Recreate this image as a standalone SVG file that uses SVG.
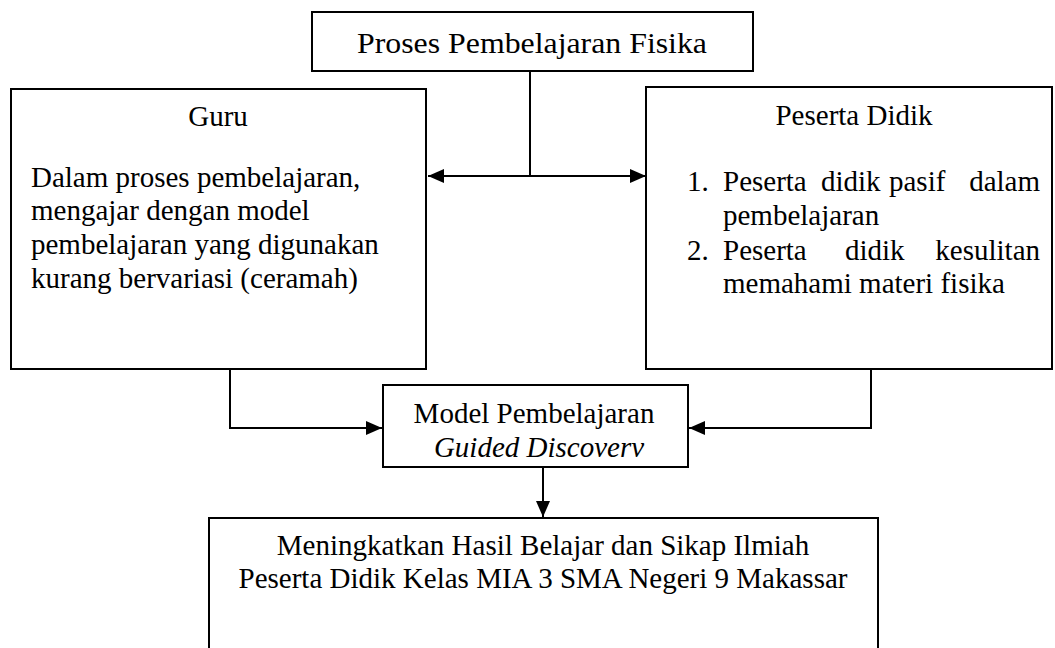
<svg xmlns="http://www.w3.org/2000/svg" width="1055" height="648" viewBox="0 0 1055 648">
<style>
.box{fill:#fff;stroke:#000;stroke-width:2}
.t{font-family:"Liberation Serif","Times New Roman",serif;font-size:29px;fill:#000}
.c{text-anchor:middle}
.e{text-anchor:end}
.i{font-style:italic}
.ln{fill:none;stroke:#000;stroke-width:2}
</style>
<defs>
<marker id="ah" markerUnits="userSpaceOnUse" markerWidth="16" markerHeight="14" refX="16" refY="7" orient="auto-start-reverse">
<path d="M0,0 L16,7 L0,14 z" fill="#000"/>
</marker>
</defs>
<rect width="1055" height="648" fill="#fff"/>
<g id="connectors">
<line class="ln" x1="530" y1="71" x2="530" y2="176"/>
<line class="ln" x1="428" y1="176" x2="646" y2="176" marker-start="url(#ah)" marker-end="url(#ah)"/>
<polyline class="ln" points="230,369 230,428 382,428" marker-end="url(#ah)"/>
<polyline class="ln" points="871,369 871,428 689,428" marker-end="url(#ah)"/>
<line class="ln" x1="543" y1="467" x2="543" y2="517" marker-end="url(#ah)"/>
</g>
<g id="proses">
<rect class="box" x="312" y="12" width="441" height="59"/>
<text class="t c" x="532" y="53" font-size="31.5" textLength="350" lengthAdjust="spacingAndGlyphs">Proses Pembelajaran Fisika</text>
</g>
<g id="guru">
<rect class="box" x="11" y="89" width="415" height="280"/>
<text class="t c" x="218" y="126">Guru</text>
<text class="t" x="31" y="187">Dalam proses pembelajaran,</text>
<text class="t" x="31" y="220">mengajar dengan model</text>
<text class="t" x="31" y="254">pembelajaran yang digunakan</text>
<text class="t" x="31" y="288">kurang bervariasi (ceramah)</text>
</g>
<g id="peserta">
<rect class="box" x="646" y="87" width="406" height="282"/>
<text class="t c" x="854" y="125">Peserta Didik</text>
<text class="t" x="687" y="191">1.</text>
<text class="t" x="723" y="191">Peserta</text>
<text class="t" x="821" y="191">didik</text>
<text class="t" x="889" y="191">pasif</text>
<text class="t e" x="1040" y="191">dalam</text>
<text class="t" x="723" y="225">pembelajaran</text>
<text class="t" x="687" y="260">2.</text>
<text class="t" x="723" y="260">Peserta</text>
<text class="t" x="845" y="260">didik</text>
<text class="t e" x="1040" y="260">kesulitan</text>
<text class="t" x="723" y="293">memahami materi fisika</text>
</g>
<g id="model">
<rect class="box" x="383" y="385" width="305" height="82"/>
<text class="t c" x="534" y="423">Model Pembelajaran</text>
<text class="t c i" x="539" y="457">Guided Discoverv</text>
</g>
<g id="hasil">
<rect class="box" x="209" y="518" width="669" height="150"/>
<text class="t c" x="543" y="555">Meningkatkan Hasil Belajar dan Sikap Ilmiah</text>
<text class="t c" x="543" y="588">Peserta Didik Kelas MIA 3 SMA Negeri 9 Makassar</text>
</g>
</svg>
